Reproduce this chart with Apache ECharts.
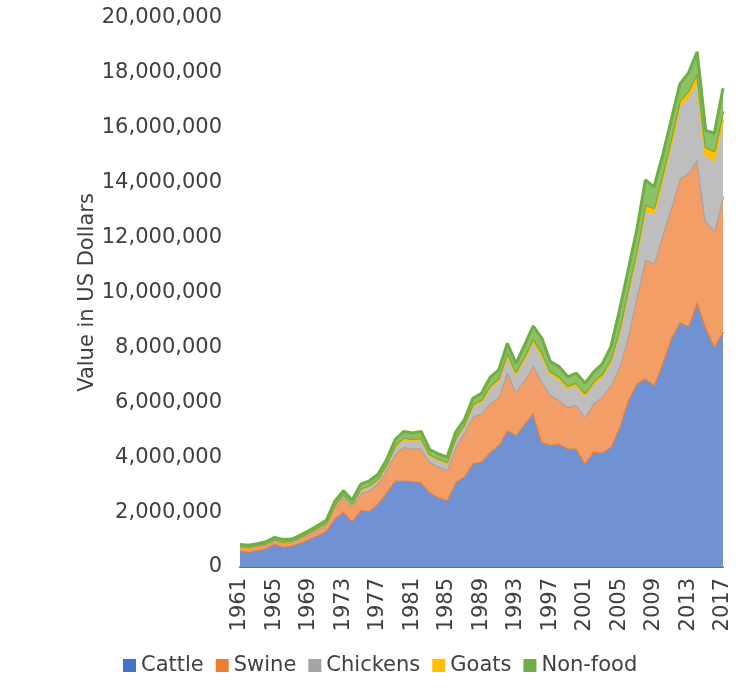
<!DOCTYPE html>
<html>
<head>
<meta charset="utf-8">
<script src="https://cdn.jsdelivr.net/npm/echarts@6/dist/echarts.min.js"></script>
<style>
html,body{margin:0;padding:0;background:#fff;}
#chart{width:745px;height:694px;}
</style>
</head>
<body>
<div id="chart"></div>
<script>
var years = [];
for (var y = 1961; y <= 2017; y++) years.push(String(y));

var cattle = [600000,550000,620000,680000,850000,740000,780000,880000,1020000,1160000,1320000,1780000,2020000,1680000,2080000,2040000,2320000,2720000,3150000,3150000,3120000,3100000,2730000,2550000,2440000,3100000,3300000,3780000,3840000,4200000,4440000,4990000,4810000,5230000,5620000,4560000,4440000,4500000,4320000,4320000,3780000,4200000,4170000,4380000,5110000,6080000,6690000,6870000,6630000,7450000,8350000,8920000,8780000,9670000,8750000,8030000,8570000];
var swine = [100000,120000,120000,120000,110000,140000,130000,150000,170000,200000,220000,400000,520000,520000,600000,760000,720000,820000,980000,1230000,1200000,1220000,1110000,1110000,1090000,1280000,1600000,1700000,1760000,1760000,1760000,2120000,1580000,1580000,1740000,2190000,1830000,1580000,1520000,1580000,1700000,1760000,2030000,2250000,2190000,2310000,3160000,4330000,4440000,4650000,4750000,5230000,5570000,5180000,3850000,4220000,4930000];
var chickens = [30000,30000,30000,30000,30000,30000,30000,40000,40000,50000,50000,70000,80000,80000,140000,140000,140000,150000,250000,280000,280000,320000,220000,240000,240000,270000,240000,380000,420000,560000,580000,620000,620000,780000,860000,980000,760000,770000,680000,720000,760000,720000,750000,850000,1250000,1600000,1550000,1800000,1810000,2000000,2300000,2650000,2780000,2850000,2400000,2550000,2800000];
var goats = [30000,30000,20000,20000,20000,20000,20000,20000,20000,20000,20000,30000,30000,30000,40000,40000,40000,50000,60000,60000,60000,60000,50000,50000,50000,60000,50000,70000,80000,90000,90000,90000,90000,100000,100000,100000,90000,90000,80000,90000,90000,90000,90000,100000,120000,140000,150000,200000,200000,200000,220000,200000,220000,300000,300000,350000,300000];
var nonfood = [60000,60000,60000,70000,70000,70000,60000,70000,80000,80000,90000,120000,130000,130000,160000,160000,160000,170000,210000,220000,220000,240000,170000,170000,180000,200000,170000,220000,230000,300000,310000,330000,320000,400000,460000,500000,360000,360000,330000,350000,370000,330000,360000,450000,690000,690000,730000,900000,770000,700000,680000,600000,650000,770000,600000,650000,840000];

var seriesNames = ['Cattle','Swine','Chickens','Goats','Non-food'];
var legendColors = ['#4472C4','#ED7D31','#A5A5A5','#FFC000','#70AD47'];
var fillColors = ['#7092D3','#F29E66','#BEBEBE','#FFC000','#8CC266'];
var edgeColors = ['#ED7D31','#A5A5A5','#FFC000','#70AD47','#70AD47'];
var dataSets = [cattle, swine, chickens, goats, nonfood];
var FONT = '"DejaVu Sans", Verdana, sans-serif';

function fmt(v){ return String(v).replace(/\B(?=(\d{3})+(?!\d))/g, ','); }

var series = seriesNames.map(function(n, i){
  return {
    name: n, type: 'line', stack: 'total', symbol: 'none', smooth: false,
    data: dataSets[i],
    itemStyle: { color: legendColors[i] },
    lineStyle: { color: edgeColors[i], width: i === 4 ? 3 : 2.5 },
    areaStyle: { color: fillColors[i], opacity: 1 },
    z: 2 + i
  };
});

var chart = echarts.init(document.getElementById('chart'), null, {renderer: 'canvas'});
chart.setOption({
  animation: false,
  backgroundColor: '#ffffff',
  textStyle: { fontFamily: FONT },
  grid: { left: 240, right: 22, top: 18, bottom: 127, containLabel: false },
  legend: {
    data: seriesNames, left: 118, top: 650,
    icon: 'rect', itemWidth: 13, itemHeight: 13, itemGap: 12,
    textStyle: { fontSize: 21, color: '#404040', fontFamily: FONT }
  },
  xAxis: {
    type: 'category', data: years, boundaryGap: false,
    axisLine: { show: true, lineStyle: { color: '#4472C4', width: 2 } },
    axisTick: { show: false },
    axisLabel: { rotate: 90, interval: 3, margin: 11, fontSize: 21, color: '#404040', fontFamily: FONT },
    splitLine: { show: false }
  },
  yAxis: {
    type: 'value', min: 0, max: 20000000, interval: 2000000,
    name: 'Value in US Dollars', nameLocation: 'middle', nameGap: 142,
    nameMoveOverlap: false,
    nameTextStyle: { fontSize: 21, color: '#404040', fontFamily: FONT },
    axisLine: { show: false }, axisTick: { show: false },
    splitLine: { show: false },
    axisLabel: { formatter: fmt, fontSize: 21, margin: 18, color: '#404040', fontFamily: FONT }
  },
  series: series
});
</script>
</body>
</html>
